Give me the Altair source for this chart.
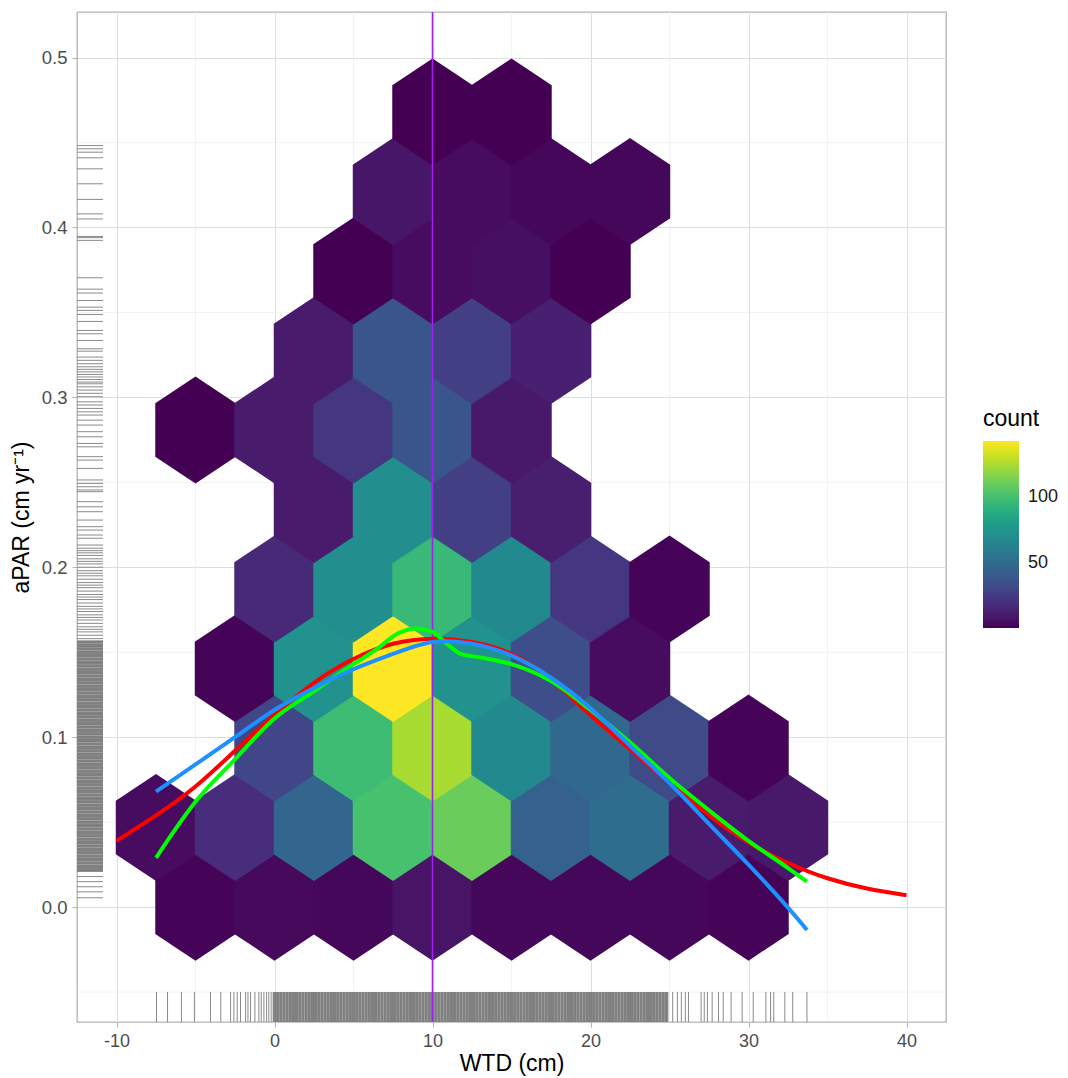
import altair as alt
import pandas as pd

# ---------------- data ----------------
# hexbin centres (WTD, aPAR) and counts, row by row
HEX_WTD = [
    -5, 0, 5, 10, 15, 20, 25, 30,
    -7.5, -2.5, 2.5, 7.5, 12.5, 17.5, 22.5, 27.5, 32.5,
    0, 5, 10, 15, 20, 25, 30,
    -2.5, 2.5, 7.5, 12.5, 17.5, 22.5,
    0, 5, 10, 15, 20, 25,
    2.5, 7.5, 12.5, 17.5,
    -5, 0, 5, 10, 15,
    2.5, 7.5, 12.5, 17.5,
    5, 10, 15, 20,
    7.5, 12.5, 17.5, 22.5,
    10, 15,
]
HEX_APAR = (
    [0.0] * 8 + [0.0468] * 9 + [0.0936] * 7 + [0.1404] * 6 + [0.1872] * 6
    + [0.234] * 4 + [0.2808] * 5 + [0.3276] * 4 + [0.3744] * 4 + [0.4212] * 4 + [0.468] * 2
)
HEX_COUNT = [
    2, 4, 3, 8, 3, 3, 3, 2,
    5, 19, 47, 101, 110, 44, 51, 11, 10,
    30, 98, 124, 68, 48, 32, 2,
    2, 72, 142, 72, 34, 5,
    17, 70, 96, 68, 23, 2,
    11, 70, 27, 12,
    1, 11, 23, 38, 10,
    11, 38, 27, 13,
    1, 5, 6, 1,
    9, 5, 3, 3,
    1, 1,
]

RED_X = [-10, -7.5, -5, -2.5, 0, 2.5, 5, 7.5, 10, 12.5, 15, 17.5, 20, 22.5, 25, 27.5, 30, 32.5, 35, 37.5, 40]
RED_Y = [0.039, 0.054, 0.071, 0.092, 0.113, 0.132, 0.146, 0.155, 0.158, 0.156, 0.149, 0.134, 0.113, 0.093,
         0.073, 0.054, 0.038, 0.026, 0.017, 0.011, 0.007]

GREEN_X = [-7.5, -5, -2.5, 0, 2.5, 5, 6.5, 7.8, 9, 10, 10.9, 11.8, 13, 15, 17.5, 20, 22.5, 25, 27.5, 30, 32.5, 33.7]
GREEN_Y = [0.029, 0.062, 0.087, 0.111, 0.127, 0.143, 0.152, 0.161, 0.164, 0.162, 0.155, 0.149, 0.147, 0.143,
           0.133, 0.116, 0.097, 0.076, 0.057, 0.039, 0.023, 0.015]

BLUE_X = [-7.5, -5, -2.5, 0, 2.5, 5, 7.5, 10, 12.5, 15, 17.5, 20, 22.5, 25, 27.5, 30, 32.5, 33.7]
BLUE_Y = [0.068, 0.084, 0.100, 0.116, 0.129, 0.140, 0.149, 0.156, 0.155, 0.148, 0.135, 0.117, 0.095, 0.073,
          0.049, 0.025, -0.0003, -0.0135]

VLINE_X = [10]

RUG_X_SPARSE = [-7.47, -6.77, -5.89, -5.07, -4.05, -3.4, -2.78, -2.57, -2.36, -2.15, -1.83, -1.68, -1.52,
                -1.24, -0.99, -0.84, -0.67, -0.5, -0.36, -0.21, -0.08, 24.9, 25.2, 25.5, 25.75, 26.0, 26.2,
                27.0, 27.2, 27.4, 27.7, 28.1, 28.4, 28.9, 29.6, 30.3, 31.1, 31.4, 31.6, 32.3, 32.8, 33.7]
RUG_X_DENSE = [
    0.0, 0.2, 0.4, 0.6, 0.8, 1.0, 1.2, 1.4, 1.6, 1.8,
    2.0, 2.2, 2.4, 2.6, 2.8, 3.0, 3.2, 3.4, 3.6, 3.8,
    4.0, 4.2, 4.4, 4.6, 4.8, 5.0, 5.2, 5.4, 5.6, 5.8,
    6.0, 6.2, 6.4, 6.6, 6.8, 7.0, 7.2, 7.4, 7.6, 7.8,
    8.0, 8.2, 8.4, 8.6, 8.8, 9.0, 9.2, 9.4, 9.6, 9.8,
    10.0, 10.2, 10.4, 10.6, 10.8, 11.0, 11.2, 11.4, 11.6, 11.8,
    12.0, 12.2, 12.4, 12.6, 12.8, 13.0, 13.2, 13.4, 13.6, 13.8,
    14.0, 14.2, 14.4, 14.6, 14.8, 15.0, 15.2, 15.4, 15.6, 15.8,
    16.0, 16.2, 16.4, 16.6, 16.8, 17.0, 17.2, 17.4, 17.6, 17.8,
    18.0, 18.2, 18.4, 18.6, 18.8, 19.0, 19.2, 19.4, 19.6, 19.8,
    20.0, 20.2, 20.4, 20.6, 20.8, 21.0, 21.2, 21.4, 21.6, 21.8,
    22.0, 22.2, 22.4, 22.6, 22.8, 23.0, 23.2, 23.4, 23.6, 23.8,
    24.0, 24.2, 24.4, 24.6, 24.8,
]

RUG_Y_SPARSE = [0.4482, 0.4463, 0.4443, 0.441, 0.4345, 0.4257, 0.4165, 0.408, 0.405, 0.3947, 0.394, 0.3924,
                0.3704, 0.3637, 0.3614, 0.357, 0.3531, 0.3512, 0.3488, 0.3447, 0.3394, 0.3374, 0.3335, 0.3286,
                0.3272, 0.3237, 0.3218, 0.3198, 0.318, 0.3165, 0.315, 0.3135, 0.312, 0.3105, 0.309, 0.308,
                0.3062, 0.3043, 0.3024, 0.3004, 0.2974, 0.2955, 0.2935, 0.2915, 0.2896, 0.2866, 0.2837, 0.2798,
                0.2768, 0.2729, 0.2709, 0.2651, 0.2631, 0.2582, 0.2514, 0.2494, 0.2474, 0.2455, 0.2445, 0.2386,
                0.2356, 0.2327, 0.2278, 0.2239, 0.2219, 0.219, 0.2171, 0.2131, 0.2112, 0.2098, 0.2085, 0.207,
                0.205, 0.2035, 0.202, 0.2, 0.198, 0.1965, 0.195, 0.193, 0.191, 0.1895, 0.188, 0.186, 0.184,
                0.1825, 0.181, 0.179, 0.177, 0.1755, 0.174, 0.172, 0.1705, 0.169, 0.167, 0.165, 0.1635, 0.162,
                0.16, 0.158, 0.021, 0.018, 0.015, 0.012, 0.009, 0.0055]
RUG_Y_DENSE = [
    0.022, 0.024, 0.026, 0.028, 0.030, 0.032, 0.034, 0.036, 0.038, 0.040,
    0.042, 0.044, 0.046, 0.048, 0.050, 0.052, 0.054, 0.056, 0.058, 0.060,
    0.062, 0.064, 0.066, 0.068, 0.070, 0.072, 0.074, 0.076, 0.078, 0.080,
    0.082, 0.084, 0.086, 0.088, 0.090, 0.092, 0.094, 0.096, 0.098, 0.100,
    0.102, 0.104, 0.106, 0.108, 0.110, 0.112, 0.114, 0.116, 0.118, 0.120,
    0.122, 0.124, 0.126, 0.128, 0.130, 0.132, 0.134, 0.136, 0.138, 0.140,
    0.142, 0.144, 0.146, 0.148, 0.150, 0.152, 0.154, 0.156,
]

MINOR_X = [-5, 5, 15, 25, 35]
MINOR_Y = [-0.05, 0.05, 0.15, 0.25, 0.35, 0.45]
X_TICKS = [-10, 0, 10, 20, 30, 40]
Y_TICKS = [0.0, 0.1, 0.2, 0.3, 0.4, 0.5]
LEGEND_VALUES = [50, 100]

# ---------------- styling ----------------
FONT = "Liberation Sans"
W, H = 869, 1010
XS = alt.Scale(domain=[-12.5, 42.5], nice=False, zero=False)
YS = alt.Scale(domain=[-0.0676, 0.5268], nice=False, zero=False)
HEX_PATH = "M0,-1L0.752,-0.5L0.752,0.5L0,1L-0.752,0.5L-0.752,-0.5Z"
HEX_SIZE = 107 * 107

X_AXIS = alt.Axis(title="WTD (cm)", values=X_TICKS, grid=True, gridColor="#dedede", gridWidth=1.1,
                  tickColor="#b3b3b3", tickSize=5, tickWidth=1.1, domain=False,
                  labelExpr="datum.value < 0 ? '-' + abs(datum.value) : '' + datum.value",
                  labelFont=FONT, labelFontSize=18, labelColor="#4d4d4d", labelPadding=5,
                  titleFont=FONT, titleFontSize=23, titleFontWeight="normal", titleColor="#000000",
                  titlePadding=2)
Y_AXIS = alt.Axis(title="aPAR (cm yr⁻¹)", values=Y_TICKS, format=".1f", grid=True, gridColor="#dedede",
                  gridWidth=1.1, tickColor="#b3b3b3", tickSize=5, tickWidth=1.1, domain=False,
                  labelFont=FONT, labelFontSize=18.5, labelColor="#4d4d4d", labelPadding=5,
                  titleFont=FONT, titleFontSize=23, titleFontWeight="normal", titleColor="#000000",
                  titlePadding=8)


def xenc(field):
    return alt.X(field, type="quantitative", scale=XS, axis=X_AXIS)


def yenc(field):
    return alt.Y(field, type="quantitative", scale=YS, axis=Y_AXIS)


minor_x = alt.Chart(pd.DataFrame({"mx": MINOR_X})).mark_rule(color="#ececec", strokeWidth=0.7).encode(
    x=xenc("mx"))
minor_y = alt.Chart(pd.DataFrame({"my": MINOR_Y})).mark_rule(color="#ececec", strokeWidth=0.7).encode(
    y=yenc("my"))

hex_df = pd.DataFrame({"wtd": HEX_WTD, "apar": HEX_APAR, "count": HEX_COUNT})
cscale = alt.Scale(scheme="viridis", domain=[1, 142])
hexes = alt.Chart(hex_df).mark_point(shape=HEX_PATH, size=HEX_SIZE, filled=True, opacity=1,
                                     strokeWidth=0).encode(
    x=xenc("wtd"),
    y=yenc("apar"),
    fill=alt.Fill("count:Q", scale=cscale, legend=alt.Legend(
        type="gradient", title="count", orient="none", legendX=906, legendY=396, direction="vertical",
        gradientLength=187, gradientThickness=36, values=LEGEND_VALUES,
        labelFont=FONT, labelFontSize=18, labelColor="#1a1a1a", labelOffset=9,
        titleFont=FONT, titleFontSize=23, titleFontWeight="normal", titleColor="#000000",
        titlePadding=10, gradientStrokeWidth=0)),
)

rug_x_sparse = alt.Chart(pd.DataFrame({"rx": RUG_X_SPARSE})).mark_rule(color="#8a8a8a", strokeWidth=1).encode(
    x=xenc("rx"), y=alt.value(H - 30), y2=alt.value(H))
rug_x_dense = alt.Chart(pd.DataFrame({"rx": RUG_X_DENSE})).mark_rule(color="#808080", strokeWidth=3.2).encode(
    x=xenc("rx"), y=alt.value(H - 30), y2=alt.value(H))
rug_y_sparse = alt.Chart(pd.DataFrame({"ry": RUG_Y_SPARSE})).mark_rule(color="#8a8a8a", strokeWidth=1).encode(
    y=yenc("ry"), x=alt.value(0), x2=alt.value(26))
rug_y_dense = alt.Chart(pd.DataFrame({"ry": RUG_Y_DENSE})).mark_rule(color="#808080", strokeWidth=3.4).encode(
    y=yenc("ry"), x=alt.value(0), x2=alt.value(26))

vline = alt.Chart(pd.DataFrame({"v": VLINE_X})).mark_rule(color="#A020F0", strokeWidth=1.6).encode(
    x=xenc("v"))


def curve(xs, ys, color, interp):
    return alt.Chart(pd.DataFrame({"cx": xs, "cy": ys})).mark_line(
        color=color, strokeWidth=4, interpolate=interp, clip=True).encode(
        x=xenc("cx"), y=yenc("cy"), order=alt.Order("cx:Q"))


red = curve(RED_X, RED_Y, "#FF0000", "natural")
green = curve(GREEN_X, GREEN_Y, "#00FF00", "monotone")
blue = curve(BLUE_X, BLUE_Y, "#1E90FF", "natural")

chart = alt.layer(
    minor_x, minor_y, hexes, rug_x_dense, rug_x_sparse, rug_y_dense, rug_y_sparse, vline, red, green, blue
).properties(
    width=W, height=H,
    autosize=alt.AutoSizeParams(type="none"),
    padding={"left": 69, "top": 4, "right": 114, "bottom": 56},
    background="white",
).configure_view(stroke="#b3b3b3", strokeWidth=1.3)

chart.save("out.html", embed_options={"renderer": "svg", "actions": False})
